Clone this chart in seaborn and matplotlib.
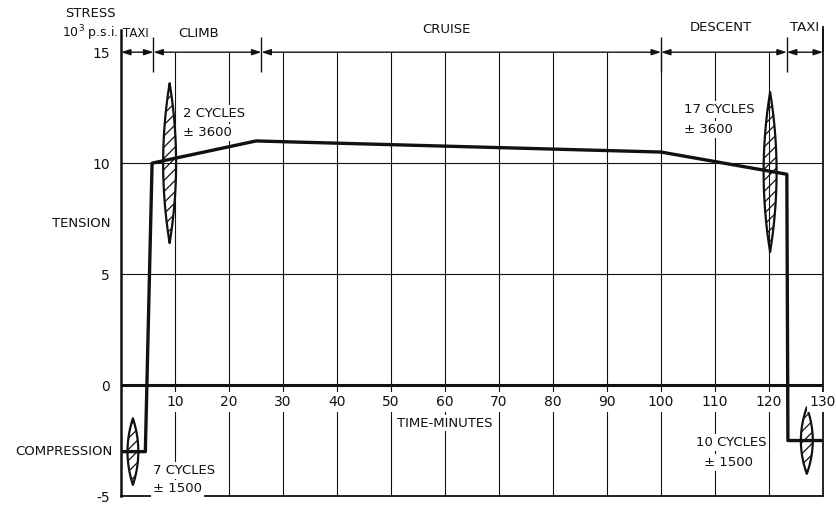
import matplotlib
matplotlib.use("Agg")
import matplotlib.pyplot as plt
import numpy as np
import pandas as pd
import seaborn as sns

# Mean stress history over one flight (time in minutes, stress in 10^3 p.s.i.)
time_min = [0, 4.5, 5.75, 25, 100, 123.3, 123.5, 130]
stress_ksi = [-3.0, -3.0, 10.0, 11.0, 10.5, 9.5, -2.5, -2.5]

# Load cycles superimposed on the mean stress
cycle_time = [2.2, 9.0, 120.2, 127.0]
cycle_mean = [-3.0, 10.0, 9.6, -2.5]
cycle_amp = [1.5, 3.6, 3.6, 1.5]
cycle_count = [7, 2, 17, 10]
cycle_amp_psi = [1500, 3600, 3600, 1500]

# Flight phases
phase_names = ["TAXI", "CLIMB", "CRUISE", "DESCENT", "TAXI"]
phase_edges = [0, 6, 26, 100, 123.3, 130]

x_ticks = [10, 20, 30, 40, 50, 60, 70, 80, 90, 100, 110, 120, 130]
y_ticks = [-5, 0, 5, 10, 15]
y_ticklabels = ["-5", "0", "5", "10", "15"]

sns.set_style("white")
plt.rcParams["font.family"] = ["DejaVu Sans"]
plt.rcParams["hatch.linewidth"] = 0.9

INK = "#111111"
FS = 9.5

fig = plt.figure(figsize=(8.37, 5.05), dpi=100)
ax = fig.add_axes([0.1446, 0.0178, 0.8387, 0.9228])
ax.set_xlim(0, 130)
ax.set_ylim(-5, 16)

# grid
ax.hlines([5, 10], 0, 130, color=INK, lw=0.8, zorder=1)
ax.vlines(x_ticks[:-1], -5, 15, color=INK, lw=0.8, zorder=1)
ax.axhline(0, color=INK, lw=2.2, zorder=2)

# frame
for side in ["left", "bottom", "right"]:
    ax.spines[side].set_color(INK)
ax.spines["left"].set_linewidth(1.8)
ax.spines["bottom"].set_linewidth(1.3)
ax.spines["right"].set_linewidth(1.3)
ax.spines["top"].set_visible(False)

ax.set_xticks([])
ax.set_yticks(y_ticks)
ax.set_yticklabels(y_ticklabels)
ax.tick_params(axis="y", length=0, pad=8, labelsize=10, colors=INK)

# cycle envelopes
w_half = [1.0, 1.2, 1.2, 1.1]
t = np.linspace(-1, 1, 200)
for xc, m, a, w in zip(cycle_time, cycle_mean, cycle_amp, w_half):
    yy = m + a * t
    hw = w * (1 - t ** 2)
    ax.fill_betweenx(yy, xc - hw, xc + hw, facecolor="none",
                     edgecolor=INK, hatch="///", lw=1.6, zorder=3)

# mean stress line
df = pd.DataFrame({"time": time_min, "stress": stress_ksi})
sns.lineplot(data=df, x="time", y="stress", sort=False, estimator=None,
             color=INK, lw=2.4, ax=ax, zorder=4)
ax.set_xlabel("")
ax.set_ylabel("")

# phase dimension line along the top
for a, b in zip(phase_edges[:-1], phase_edges[1:]):
    ax.annotate("", xy=(a, 15), xytext=(b, 15),
                arrowprops=dict(arrowstyle="<|-|>,head_length=0.55,head_width=0.18",
                                color=INK, lw=1.0, shrinkA=0, shrinkB=0),
                annotation_clip=False)
ax.vlines(phase_edges[1:-1], 14.1, 15.7, color=INK, lw=1.0, clip_on=False)
ax.vlines([130], 15, 16.2, color=INK, lw=1.3, clip_on=False)

phase_pos = [(0.4, 15.86, "left", 8.5), (14.3, 15.86, "center", FS),
             (60.3, 16.0, "center", FS), (111.1, 16.1, "center", FS),
             (126.5, 16.1, "center", FS)]
for name, (px, py, ha, fs) in zip(phase_names, phase_pos):
    ax.text(px, py, name, ha=ha, va="center", fontsize=fs, color=INK, clip_on=False)

# x tick labels inside the plot, under the zero line
for xv in x_ticks:
    ax.text(xv, -0.77, str(xv), ha="center", va="center", fontsize=10, color=INK,
            bbox=dict(boxstyle="square,pad=0.2", fc="white", ec="none"), zorder=5)
ax.text(60, -1.72, "TIME-MINUTES", ha="center", va="center", fontsize=FS, color=INK,
        bbox=dict(boxstyle="square,pad=0.1", fc="white", ec="none"), zorder=5)

# axis captions
ax.text(-1.0, 16.75, "STRESS", ha="right", va="center", fontsize=FS, color=INK, clip_on=False)
ax.text(-0.4, 15.86, r"10$^{3}$ p.s.i.", ha="right", va="center", fontsize=FS - 0.5,
        color=INK, clip_on=False)
ax.text(-1.9, 7.3, "TENSION", ha="right", va="center", fontsize=FS, color=INK, clip_on=False)
ax.text(-1.6, -3.0, "COMPRESSION", ha="right", va="center", fontsize=FS, color=INK,
        clip_on=False)

# cycle annotations
label_pos = [((5.9, -3.83), (5.9, -4.64)),
             ((11.5, 12.25), (11.5, 11.4)),
             ((104.3, 12.4), (104.3, 11.5)),
             ((106.5, -2.61), (108.0, -3.47))]
for n, amp, (p1, p2) in zip(cycle_count, cycle_amp_psi, label_pos):
    box = dict(boxstyle="square,pad=0.15", fc="white", ec="none")
    ax.text(p1[0], p1[1], f"{n} CYCLES", ha="left", va="center", fontsize=FS,
            color=INK, bbox=box, zorder=5)
    ax.text(p2[0], p2[1], f"\u00b1 {amp}", ha="left", va="center", fontsize=FS,
            color=INK, bbox=box, zorder=5)

fig.savefig("out.png", dpi=100, facecolor="white")
